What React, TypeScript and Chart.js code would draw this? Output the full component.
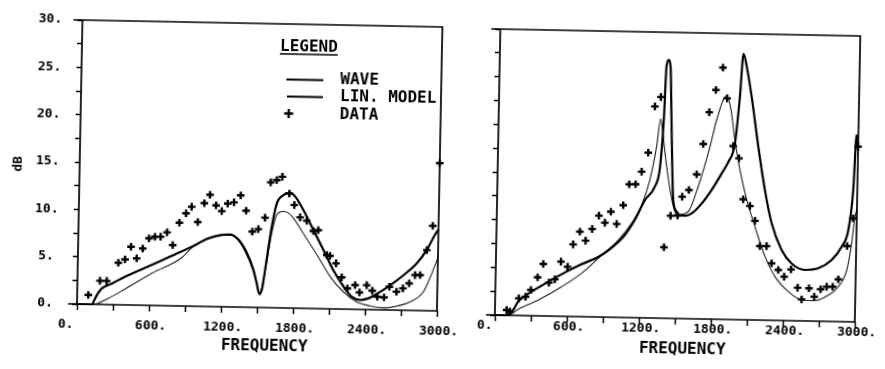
import React, { useEffect, useRef } from 'react';
import { Chart, registerables } from 'chart.js';

Chart.register(...registerables);

// ---------- labels ----------
const xTickValues = [0, 600, 1200, 1800, 2400, 3000];
const xTickLabels = ['0.', '600.', '1200.', '1800.', '2400.', '3000.'];
const yTickValues = [0, 5, 10, 15, 20, 25, 30];
const yTickLabels = ['0.', '5.', '10.', '15.', '20.', '25.', '30.'];
const xTitle = 'FREQUENCY';
const yTitle = 'dB';
const legendTitle = 'LEGEND';
const seriesNames = ['WAVE', 'LIN. MODEL', 'DATA'];

// ---------- left panel ----------
const leftWaveHz = [0, 120, 165, 205, 290, 400, 535, 670, 810, 950, 1085, 1195, 1265, 1335, 1405, 1465, 1495, 1518, 1540, 1562, 1610, 1648, 1700, 1752, 1800, 1870, 1958, 2045, 2130, 2220, 2290, 2360, 2430, 2500, 2605, 2715, 2825, 2905, 2970, 3000];
const leftWaveDb = [0, 0, 1.0, 1.7, 2.25, 3.0, 3.8, 4.6, 5.45, 6.3, 7.2, 7.6, 7.65, 7.1, 5.7, 3.9, 2.5, 1.4, 2.0, 4.0, 8.5, 11.0, 11.9, 12.2, 11.8, 10.4, 8.3, 6.2, 4.1, 2.35, 1.3, 1.0, 1.2, 1.7, 2.6, 3.7, 5.0, 6.4, 8.0, 8.6];

const leftLinHz = [0, 130, 260, 400, 620, 865, 950, 1085, 1195, 1270, 1340, 1410, 1468, 1518, 1562, 1610, 1653, 1700, 1740, 1790, 1875, 2000, 2105, 2215, 2330, 2440, 2555, 2665, 2775, 2885, 2950, 3000];
const leftLinDb = [0, 0, 0.67, 1.7, 3.4, 5.1, 6.2, 7.15, 7.55, 7.6, 7.15, 5.8, 4.0, 1.4, 3.9, 7.8, 9.9, 10.2, 10.1, 9.5, 7.9, 5.5, 3.4, 1.85, 0.8, 0.4, 0.22, 0.43, 0.9, 2.0, 3.9, 5.6];

const leftDataHz = [93, 188, 244, 338, 393, 441, 490, 539, 590, 639, 686, 739, 788, 840, 894, 940, 993, 1045, 1091, 1143, 1191, 1240, 1292, 1347, 1394, 1449, 1499, 1553, 1595, 1645, 1691, 1752, 1795, 1845, 1901, 1958, 1999, 2073, 2100, 2152, 2201, 2250, 2314, 2352, 2411, 2458, 2501, 2557, 2600, 2660, 2713, 2764, 2812, 2854, 2906, 2952, 3000];
const leftDataDb = [0.97, 2.5, 2.5, 4.44, 4.8, 6.16, 4.94, 6.0, 7.08, 7.27, 7.28, 7.75, 6.42, 8.8, 9.8, 10.5, 8.9, 10.9, 11.8, 10.7, 10.1, 10.9, 11.05, 11.8, 10.2, 8.0, 8.28, 9.49, 13.24, 13.5, 13.85, 12.1, 10.89, 9.6, 9.26, 8.18, 8.3, 5.68, 5.6, 4.82, 3.35, 2.19, 2.56, 1.8, 2.58, 2.0, 1.37, 1.32, 2.45, 1.94, 2.31, 2.85, 3.74, 3.75, 6.4, 8.98, 15.6];

// ---------- right panel ----------
const rightWaveHz = [0, 85, 150, 192, 300, 440, 577, 714, 852, 954, 1070, 1150, 1232, 1313, 1352, 1377, 1391, 1407, 1425, 1440, 1468, 1498, 1512, 1567, 1623, 1705, 1786, 1867, 1920, 1973, 2007, 2030, 2060, 2105, 2168, 2230, 2291, 2379, 2464, 2576, 2687, 2797, 2878, 2931, 2966, 2985, 3000];
const rightWaveDb = [0, 0, 0.55, 1.45, 2.5, 3.6, 4.6, 5.5, 6.3, 7.2, 8.65, 10.25, 12.35, 13.8, 15.8, 21.0, 26.5, 27.1, 26.3, 21.0, 12.4, 11.2, 10.9, 10.8, 11.05, 12.1, 13.55, 15.3, 16.5, 18.5, 23.4, 27.9, 26.5, 23.4, 18.2, 13.65, 10.2, 7.4, 6.0, 5.35, 5.55, 6.45, 7.85, 9.6, 13.8, 19.6, 18.0];

const rightLinHz = [0, 110, 193, 358, 551, 716, 880, 1016, 1125, 1205, 1270, 1321, 1350, 1365, 1390, 1439, 1484, 1512, 1595, 1674, 1752, 1817, 1868, 1896, 1935, 1972, 2019, 2080, 2153, 2241, 2327, 2441, 2553, 2664, 2774, 2856, 2924, 2961, 2984, 3000];
const rightLinDb = [0, 0, 0.65, 1.65, 3.1, 4.55, 6.5, 8.1, 9.9, 11.8, 14.5, 18.0, 20.9, 20.0, 17.5, 13.5, 11.2, 10.9, 11.25, 13.9, 17.4, 20.9, 23.0, 23.4, 22.0, 18.8, 15.7, 12.6, 9.8, 6.7, 4.6, 3.05, 2.2, 2.15, 2.75, 3.65, 5.4, 8.2, 11.0, 11.8];

const rightDataHz = [97, 125, 197, 253, 296, 350, 395, 445, 494, 542, 598, 641, 695, 744, 797, 851, 902, 950, 1000, 1052, 1099, 1152, 1200, 1252, 1300, 1349, 1398, 1448, 1507, 1542, 1597, 1659, 1709, 1754, 1806, 1861, 1901, 1959, 2009, 2051, 2108, 2152, 2197, 2253, 2297, 2354, 2404, 2460, 2518, 2553, 2613, 2658, 2710, 2760, 2810, 2856, 2924, 2970, 3000];
const rightDataDb = [0.55, 0.38, 1.8, 1.98, 2.7, 4.04, 5.45, 3.5, 3.87, 5.73, 5.21, 7.57, 8.91, 7.98, 9.22, 10.63, 9.9, 11.07, 9.79, 11.77, 13.98, 14.0, 15.33, 17.34, 22.2, 23.2, 7.44, 10.77, 10.8, 12.78, 13.5, 15.16, 18.36, 21.7, 24.05, 26.4, 23.2, 18.2, 16.93, 12.64, 11.95, 10.4, 7.77, 7.78, 5.98, 5.29, 4.6, 5.38, 3.47, 2.26, 3.43, 2.56, 3.35, 3.63, 3.64, 4.43, 7.94, 10.86, 18.4];

const MONO = "'DejaVu Sans Mono', monospace";

function pts(xs: number[], ys: number[]) {
  return xs.map((x, i) => ({ x, y: ys[i] }));
}

interface DecorOpts {
  yLabels: boolean;
  xLabelDy: number;
  xTitleDy: number;
  zeroOffset: number;
  legend: boolean;
  yTitle: boolean;
}

function makeDecor(o: DecorOpts) {
  return {
    id: 'decor',
    afterDraw(chart: any) {
      const { ctx, chartArea: a, scales } = chart;
      const xs = scales.x;
      const ys = scales.y;
      ctx.save();
      ctx.strokeStyle = '#000';
      ctx.lineWidth = 1.7;
      ctx.beginPath();
      ctx.moveTo(a.left - 9, a.bottom);
      ctx.lineTo(a.right, a.bottom);
      ctx.moveTo(a.left, a.bottom);
      ctx.lineTo(a.left, a.top);
      ctx.moveTo(a.left - 9, a.top);
      ctx.lineTo(a.right, a.top);
      ctx.lineTo(a.right, a.bottom);
      ctx.stroke();

      ctx.fillStyle = '#000';
      ctx.font = `bold 13px ${MONO}`;
      ctx.textAlign = 'center';
      ctx.textBaseline = 'middle';
      xTickValues.forEach((v, i) => {
        const off = v === 0 ? o.zeroOffset : 2;
        ctx.fillText(xTickLabels[i], xs.getPixelForValue(v) + off, a.bottom + o.xLabelDy);
      });
      if (o.yLabels) {
        yTickValues.forEach((v, i) => {
          ctx.fillText(yTickLabels[i], 45, ys.getPixelForValue(v));
        });
      }
      ctx.font = `bold 16px ${MONO}`;
      ctx.fillText(xTitle, (a.left + a.right) / 2 + 8, a.bottom + o.xTitleDy);

      if (o.yTitle) {
        ctx.save();
        ctx.translate(16, 165);
        ctx.rotate(-Math.PI / 2);
        ctx.font = `bold 13px ${MONO}`;
        ctx.fillText(yTitle, 0, 0);
        ctx.restore();
      }

      if (o.legend) {
        ctx.textAlign = 'left';
        ctx.font = `bold 16px ${MONO}`;
        ctx.fillText(legendTitle, 275, 43);
        const w = ctx.measureText(legendTitle).width;
        ctx.lineWidth = 1.5;
        ctx.beginPath();
        ctx.moveTo(275, 50);
        ctx.lineTo(275 + w, 50);
        ctx.stroke();

        ctx.lineWidth = 2;
        ctx.beginPath();
        ctx.moveTo(282, 75.5);
        ctx.lineTo(319, 75.5);
        ctx.stroke();
        ctx.beginPath();
        ctx.moveTo(283, 92.5);
        ctx.lineTo(319, 92.5);
        ctx.stroke();
        ctx.lineWidth = 2.4;
        ctx.beginPath();
        ctx.moveTo(280.5, 109.5);
        ctx.lineTo(289.5, 109.5);
        ctx.moveTo(285, 105);
        ctx.lineTo(285, 114);
        ctx.stroke();

        ctx.fillText(seriesNames[0], 336, 75);
        ctx.fillText(seriesNames[1], 336, 92);
        ctx.fillText(seriesNames[2], 336, 109.5);
      }
      ctx.restore();
    },
  };
}

function buildConfig(
  wave: { x: number; y: number }[],
  lin: { x: number; y: number }[],
  data: { x: number; y: number }[],
  padding: any,
  yWidth: number,
  xHeight: number,
  decor: DecorOpts
): any {
  return {
    type: 'line',
    data: {
      datasets: [
        {
          label: seriesNames[0],
          data: wave,
          borderColor: '#000',
          borderWidth: 2.2,
          pointRadius: 0,
          cubicInterpolationMode: 'monotone',
          fill: false,
          clip: false,
        },
        {
          label: seriesNames[1],
          data: lin,
          borderColor: '#1e1e1e',
          borderWidth: 1.1,
          pointRadius: 0,
          cubicInterpolationMode: 'monotone',
          fill: false,
          clip: false,
        },
        {
          label: seriesNames[2],
          data,
          showLine: false,
          pointStyle: 'cross',
          pointRadius: 3.8,
          pointBorderWidth: 2.4,
          pointBorderColor: '#000',
          borderColor: '#000',
          clip: false,
        },
      ],
    },
    options: {
      responsive: false,
      animation: false,
      events: [],
      layout: { padding },
      plugins: { legend: { display: false }, tooltip: { enabled: false }, title: { display: false } },
      scales: {
        x: {
          type: 'linear',
          min: 0,
          max: 3000,
          ticks: { display: false, stepSize: 300, autoSkip: false },
          grid: { drawOnChartArea: false, drawTicks: true, tickLength: 6, color: '#000', tickWidth: 1.5 },
          border: { display: false },
          afterFit: (s: any) => {
            s.height = xHeight;
          },
        },
        y: {
          type: 'linear',
          min: 0,
          max: 30,
          ticks: { display: false, stepSize: 2.5, autoSkip: false },
          grid: { drawOnChartArea: false, drawTicks: true, tickLength: 5, color: '#000', tickWidth: 1.5 },
          border: { display: false },
          afterFit: (s: any) => {
            s.width = yWidth;
          },
        },
      },
    },
    plugins: [makeDecor(decor)],
  };
}

export default function App() {
  const leftRef = useRef<HTMLCanvasElement>(null);
  const rightRef = useRef<HTMLCanvasElement>(null);

  useEffect(() => {
    const left = new Chart(
      leftRef.current as HTMLCanvasElement,
      buildConfig(
        pts(leftWaveHz, leftWaveDb),
        pts(leftLinHz, leftLinDb),
        pts(leftDataHz, leftDataDb),
        { left: 37, top: 20, right: 23, bottom: 0 },
        40,
        65,
        { yLabels: true, xLabelDy: 20.5, xTitleDy: 39, zeroOffset: -11, legend: true, yTitle: true }
      )
    );
    const right = new Chart(
      rightRef.current as HTMLCanvasElement,
      buildConfig(
        pts(rightWaveHz, rightWaveDb),
        pts(rightLinHz, rightLinDb),
        pts(rightDataHz, rightDataDb),
        { left: 10, top: 21, right: 30, bottom: 0 },
        40,
        62,
        { yLabels: false, xLabelDy: 11, xTitleDy: 31, zeroOffset: -10, legend: false, yTitle: false }
      )
    );
    return () => {
      left.destroy();
      right.destroy();
    };
  }, []);

  return (
    <div style={{ position: 'fixed', left: 0, top: 0, width: 885, height: 369, overflow: 'hidden', background: '#fff' }}>
      <div
        style={{
          position: 'absolute',
          left: 0,
          top: 0,
          width: 885,
          height: 369,
          transform: 'rotate(1.1deg)',
          transformOrigin: '77px 304px',
        }}
      >
        <canvas ref={leftRef} width={460} height={369} style={{ position: 'absolute', left: 0, top: 0, width: 460, height: 369 }} />
        <canvas ref={rightRef} width={440} height={369} style={{ position: 'absolute', left: 445, top: 0, width: 440, height: 369 }} />
      </div>
    </div>
  );
}
